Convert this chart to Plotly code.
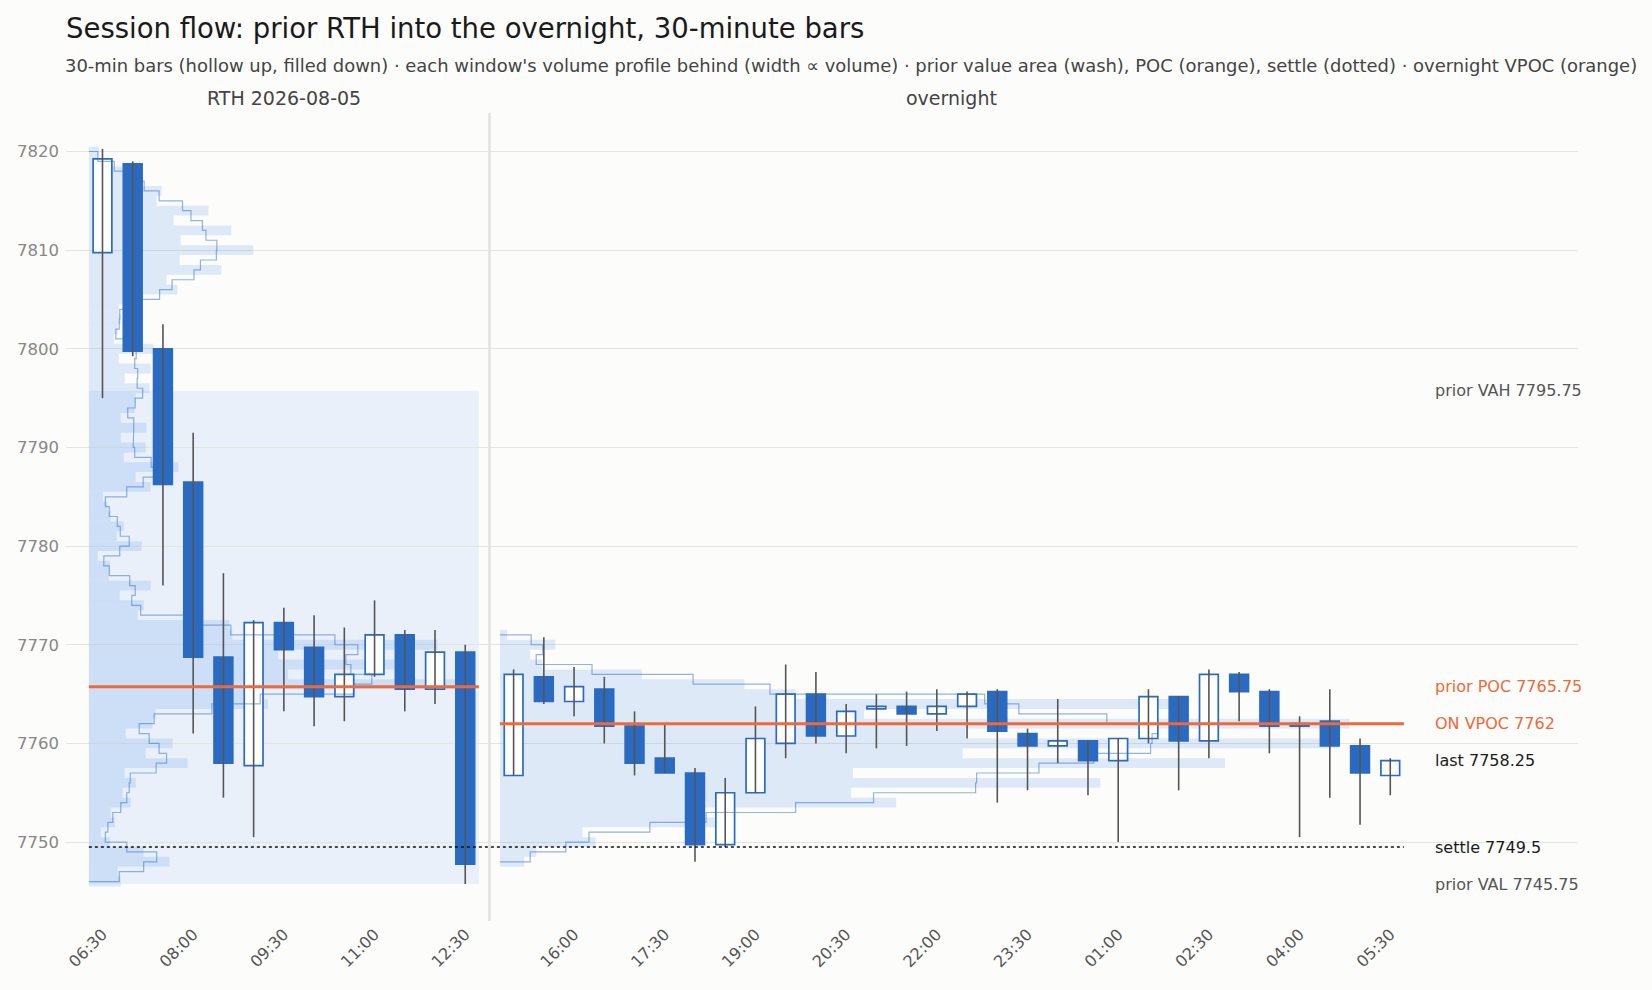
import plotly.graph_objects as go

# ---- prior RTH session, 30-minute bars ----
RTH_TIME = ["06:30", "07:00", "07:30", "08:00", "08:30", "09:00", "09:30",
            "10:00", "10:30", "11:00", "11:30", "12:00", "12:30"]
RTH_O = [7809.75, 7818.75, 7800.00, 7786.50, 7768.75, 7757.75, 7772.25,
         7769.75, 7764.75, 7767.00, 7771.00, 7765.50, 7769.25]
RTH_H = [7820.25, 7819.00, 7802.50, 7791.50, 7777.25, 7772.50, 7773.75,
         7773.00, 7771.75, 7774.50, 7771.50, 7771.50, 7770.00]
RTH_L = [7795.00, 7799.25, 7776.00, 7761.00, 7754.50, 7750.50, 7763.25,
         7761.75, 7762.25, 7766.75, 7763.25, 7764.00, 7745.75]
RTH_C = [7819.25, 7799.75, 7786.25, 7768.75, 7758.00, 7772.25, 7769.50,
         7764.75, 7767.00, 7771.00, 7765.50, 7769.25, 7747.75]

# ---- overnight session ----
ON_TIME = ["15:00", "15:30", "16:00", "16:30", "17:00", "17:30", "18:00", "18:30",
           "19:00", "19:30", "20:00", "20:30", "21:00", "21:30", "22:00", "22:30",
           "23:00", "23:30", "00:00", "00:30", "01:00", "01:30", "02:00", "02:30",
           "03:00", "03:30", "04:00", "04:30", "05:00", "05:30"]
ON_O = [7756.75, 7766.75, 7764.25, 7765.50, 7761.75, 7758.50, 7757.00, 7749.75,
        7755.00, 7760.00, 7765.00, 7760.75, 7763.50, 7763.75, 7763.00, 7763.75,
        7765.25, 7761.00, 7759.75, 7760.25, 7758.25, 7760.50, 7764.75, 7760.25,
        7767.00, 7765.25, 7762.00, 7762.25, 7759.75, 7756.75]
ON_H = [7767.50, 7770.75, 7767.75, 7766.75, 7763.25, 7762.00, 7757.50, 7756.50,
        7763.75, 7768.00, 7767.25, 7764.00, 7765.00, 7765.25, 7765.50, 7765.25,
        7765.50, 7761.50, 7764.50, 7760.25, 7760.50, 7765.50, 7764.75, 7767.50,
        7767.25, 7765.50, 7762.75, 7765.50, 7760.50, 7758.50]
ON_L = [7756.75, 7764.00, 7762.75, 7760.00, 7756.75, 7757.00, 7748.00, 7749.50,
        7755.00, 7758.50, 7760.00, 7759.00, 7759.50, 7759.75, 7761.25, 7760.50,
        7754.00, 7755.25, 7758.00, 7754.75, 7750.00, 7760.00, 7755.25, 7758.50,
        7762.25, 7759.00, 7750.50, 7754.50, 7751.75, 7754.75]
ON_C = [7767.00, 7764.25, 7765.75, 7761.75, 7758.00, 7757.00, 7749.75, 7755.00,
        7760.50, 7765.00, 7760.75, 7763.25, 7763.75, 7763.00, 7763.75, 7765.00,
        7761.25, 7759.75, 7760.25, 7758.25, 7760.50, 7764.75, 7760.25, 7767.00,
        7765.25, 7761.75, 7761.75, 7759.75, 7757.00, 7758.25]

# ---- volume profiles (1-point bins, contracts in arbitrary units) ----
RTH_PROFILE_PRICE = list(range(7746, 7821))
RTH_PROFILE_VOL = [32, 29, 81, 55, 21, 12, 26, 22, 42, 34,
                   47, 36, 99, 57, 84, 37, 64, 67, 180, 164,
                   368, 200, 326, 190, 350, 144, 141, 49, 55, 31,
                   62, 20, 21, 9, 53, 28, 35, 22, 19, 14,
                   62, 47, 90, 35, 57, 32, 58, 32, 46, 47,
                   61, 36, 62, 30, 65, 25, 29, 32, 30, 53,
                   89, 78, 133, 91, 165, 92, 143, 85, 120, 68,
                   73, 38, 43, 8, 10]
ON_PROFILE_PRICE = list(range(7748, 7772))
ON_PROFILE_VOL = [24, 36, 95, 82, 216, 194, 394, 349, 597, 351,
                  721, 460, 834, 463, 845, 362, 670, 294, 243, 141,
                  42, 30, 55, 7]

PRIOR_VAH = 7795.75
PRIOR_VAL = 7745.75
PRIOR_POC = 7765.75
SETTLE = 7749.5
ON_VPOC = 7762
LAST = ON_C[-1]

BG = "#fcfcfa"
BLUE = "#2a6bc1"
WICK = "#555555"
ORANGE = "#ec6a3b"
WASH = "#e9f0fa"
PROFILE_FILL = "rgba(45,125,225,0.15)"
OUTLINE = "rgba(42,107,200,0.5)"
FONT = "DejaVu Sans"

ON_OFFSET = 13.6   # slot where the overnight starts (leaves a gap after RTH)
HALF = 0.45

rth_x = list(range(len(RTH_TIME)))
on_x = [ON_OFFSET + j for j in range(len(ON_TIME))]
rth_win = (rth_x[0] - HALF, rth_x[-1] + HALF)
on_win = (on_x[0] - HALF, on_x[-1] + HALF)


def profile_traces(prices, vols, win, share=0.94):
    x0, x1 = win
    scale = (x1 - x0) * share / max(vols)
    widths = [v * scale for v in vols]
    bars = go.Bar(y=prices, x=widths, base=x0, orientation="h", width=1.0,
                  marker=dict(color=PROFILE_FILL, line=dict(width=0)),
                  hoverinfo="skip")
    # smoothed outline: mean of neighbouring bins, drawn as a step
    p = prices[::-1]
    w = widths[::-1]
    xs, ys = [x0], [p[0]]
    for k in range(len(p) - 1):
        m = x0 + (w[k] + w[k + 1]) / 2
        xs += [m, m]
        ys += [p[k], p[k + 1]]
    xs.append(x0)
    ys.append(p[-1])
    outline = go.Scatter(x=xs, y=ys, mode="lines",
                         line=dict(color=OUTLINE, width=1.2), hoverinfo="skip")
    return [bars, outline]


fig = go.Figure()

for t in profile_traces(RTH_PROFILE_PRICE, RTH_PROFILE_VOL, rth_win):
    fig.add_trace(t)
for t in profile_traces(ON_PROFILE_PRICE, ON_PROFILE_VOL, on_win):
    fig.add_trace(t)

xs = rth_x + on_x
O = RTH_O + ON_O
H = RTH_H + ON_H
L = RTH_L + ON_L
C = RTH_C + ON_C

wx, wy = [], []
for x, lo, hi in zip(xs, L, H):
    wx += [x, x, None]
    wy += [lo, hi, None]
fig.add_trace(go.Scatter(x=wx, y=wy, mode="lines",
                         line=dict(color=WICK, width=1.6), hoverinfo="skip"))

fig.add_trace(go.Bar(
    x=xs, y=[abs(c - o) for o, c in zip(O, C)], base=[min(o, c) for o, c in zip(O, C)],
    width=0.62,
    marker=dict(color=["#ffffff" if c >= o else BLUE for o, c in zip(O, C)],
                line=dict(color=BLUE, width=1.7)),
    hoverinfo="skip"))

# reference lines
fig.add_trace(go.Scatter(x=list(rth_win), y=[PRIOR_POC] * 2, mode="lines",
                         line=dict(color=ORANGE, width=3), hoverinfo="skip"))
fig.add_trace(go.Scatter(x=list(on_win), y=[ON_VPOC] * 2, mode="lines",
                         line=dict(color=ORANGE, width=3), hoverinfo="skip"))
fig.add_trace(go.Scatter(x=[rth_win[0], on_win[1]], y=[SETTLE] * 2, mode="lines",
                         line=dict(color="#111111", width=1.6, dash="dot"),
                         hoverinfo="skip"))

# prior value area wash
fig.add_shape(type="rect", x0=rth_win[0], x1=rth_win[1], y0=PRIOR_VAL, y1=PRIOR_VAH,
              fillcolor=WASH, line=dict(width=0), layer="below")
# session separator
sep = (rth_x[-1] + on_x[0]) / 2
fig.add_shape(type="line", x0=sep, x1=sep, y0=0, y1=1, yref="paper",
              line=dict(color="#e2e2de", width=2.5), layer="below")

lab_x = on_win[1] + 0.95
labels = [
    (PRIOR_VAH, f"prior VAH {PRIOR_VAH:g}", "#555555"),
    (PRIOR_POC, f"prior POC {PRIOR_POC:g}", ORANGE),
    (ON_VPOC, f"ON VPOC {ON_VPOC:g}", ORANGE),
    (LAST, f"last {LAST:g}", "#1a1a1a"),
    (SETTLE, f"settle {SETTLE:g}", "#1a1a1a"),
    (PRIOR_VAL, f"prior VAL {PRIOR_VAL:g}", "#555555"),
]
for y, text, col in labels:
    fig.add_annotation(x=lab_x, y=y, text=text, showarrow=False, xanchor="left",
                       yanchor="middle", font=dict(size=16, color=col, family=FONT))

fig.add_annotation(x=(rth_win[0] + rth_win[1]) / 2, y=1.0186, yref="paper",
                   text="RTH 2026-08-05", showarrow=False, yanchor="middle",
                   font=dict(size=19, color="#444444", family=FONT))
fig.add_annotation(x=(on_win[0] + on_win[1]) / 2, y=1.0186, yref="paper",
                   text="overnight", showarrow=False, yanchor="middle",
                   font=dict(size=19, color="#444444", family=FONT))
fig.add_annotation(
    x=-0.002, xref="paper", y=1.0594, yref="paper", xanchor="left", yanchor="middle",
    showarrow=False,
    text="30-min bars (hollow up, filled down) · each window's volume profile behind "
         "(width ∝ volume) · prior value area (wash), POC (orange), settle (dotted) · "
         "overnight VPOC (orange)",
    font=dict(size=17.95, color="#444444", family=FONT))

tick_idx = [0, 3, 6, 9, 12]
tick_on = [2, 5, 8, 11, 14, 17, 20, 23, 26, 29]
tickvals = [rth_x[i] for i in tick_idx] + [on_x[j] for j in tick_on]
ticktext = [RTH_TIME[i] for i in tick_idx] + [ON_TIME[j] for j in tick_on]

fig.update_layout(
    width=1652, height=990,
    paper_bgcolor=BG, plot_bgcolor=BG,
    margin=dict(l=66, r=74, t=113, b=69),
    showlegend=False, barmode="overlay",
    font=dict(family=FONT),
    title=dict(text="Session flow: prior RTH into the overnight, 30-minute bars",
               x=66 / 1652, xref="container", xanchor="left",
               y=1 - 28 / 990, yref="container", yanchor="middle",
               font=dict(size=27.5, color="#1a1a1a", family=FONT)),
    xaxis=dict(range=[-1.207, 48.81], showgrid=False, zeroline=False, showline=False,
               tickvals=tickvals, ticktext=ticktext, tickangle=-45,
               tickfont=dict(size=16, color="#555555")),
    yaxis=dict(range=[7742.0, 7823.9], tickvals=list(range(7750, 7821, 10)),
               showgrid=True, gridcolor="#e4e4e0", gridwidth=1.2,
               zeroline=False, showline=False, ticklabelstandoff=6,
               tickfont=dict(size=16.5, color="#888888")),
)

fig.write_html("out.html", config={"displayModeBar": False},
               post_script="document.body.style.margin='0';"
                           "document.body.style.background='" + BG + "';")
